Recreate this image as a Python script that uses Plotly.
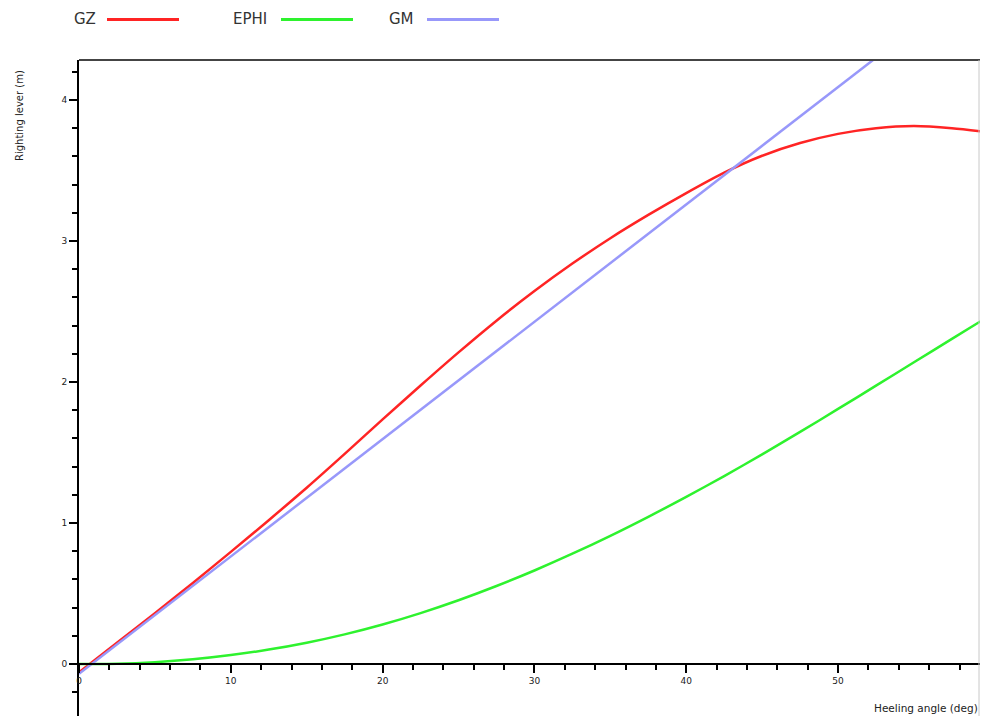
import plotly.graph_objects as go

# ---- data ----
heel_deg = [0, 2.5, 5, 7.5, 10, 12.5, 15, 17.5, 20, 22.5, 25, 27.5, 30,
            32.5, 35, 37.5, 40, 42.5, 45, 47.5, 50, 52.5, 55, 57.5, 60]
gz = [-0.06, 0.15, 0.36, 0.575, 0.795, 1.02, 1.25, 1.49, 1.735, 1.975, 2.21, 2.435, 2.645,
      2.84, 3.02, 3.185, 3.34, 3.485, 3.605, 3.695, 3.76, 3.80, 3.815, 3.80, 3.77]
ephi = [0.0, 0.002, 0.013, 0.033, 0.063, 0.102, 0.151, 0.210, 0.280, 0.361, 0.452, 0.553, 0.663,
        0.782, 0.909, 1.044, 1.185, 1.333, 1.487, 1.646, 1.809, 1.974, 2.140, 2.306, 2.471]
gm_x = [0, 52.5]
gm_y = [-0.07, 4.30]

series_names = ["GZ", "EPHI", "GM"]
series_colors = ["#ff2424", "#2ef22e", "#9898fa"]

x_range = [0, 59.35]
y_range = [-0.369, 4.284]

fig = go.Figure()
fig.add_trace(go.Scatter(x=heel_deg, y=gz, mode="lines", name=series_names[0],
                         line=dict(color=series_colors[0], width=2.5, shape="spline", smoothing=0.8),
                         showlegend=False))
fig.add_trace(go.Scatter(x=heel_deg, y=ephi, mode="lines", name=series_names[1],
                         line=dict(color=series_colors[1], width=2.5, shape="spline", smoothing=0.8),
                         showlegend=False))
fig.add_trace(go.Scatter(x=gm_x, y=gm_y, mode="lines", name=series_names[2],
                         line=dict(color=series_colors[2], width=2.5),
                         showlegend=False))

tick_font = dict(family="DejaVu Sans", size=9, color="#222")
x_pos = (0 - y_range[0]) / (y_range[1] - y_range[0])

# page body has an 8px margin, so the figure is offset by 8px
OFF = 8
W, H = 988 - 2 * OFF, 724 - 2 * OFF
L, T = 79 - OFF, 60 - OFF

fig.update_layout(
    width=W, height=H,
    margin=dict(l=L, r=0, t=T, b=0),
    paper_bgcolor="white", plot_bgcolor="white",
    xaxis=dict(range=x_range, anchor="free", position=x_pos,
               showgrid=False, zeroline=False,
               showline=True, linecolor="black", linewidth=2,
               ticks="outside", ticklen=8, tickwidth=2, tickcolor="black",
               dtick=10, tick0=0, tickfont=tick_font,
               minor=dict(dtick=2, ticks="outside", ticklen=5, tickwidth=2,
                          tickcolor="black", showgrid=False)),
    yaxis=dict(range=y_range, showgrid=False, zeroline=False,
               showline=True, linecolor="black", linewidth=2,
               ticks="outside", ticklen=8, tickwidth=2, tickcolor="black",
               dtick=1, tick0=0, tickfont=tick_font,
               minor=dict(dtick=0.2, ticks="outside", ticklen=5, tickwidth=2,
                          tickcolor="black", showgrid=False)),
)

pw, ph = W - L, H - T

# plot frame: dark top edge, light right edge
fig.add_shape(type="line", xref="paper", yref="paper", x0=0, x1=1, y0=1, y1=1,
              line=dict(color="#444", width=2))
fig.add_shape(type="line", xref="paper", yref="paper", x0=1 - 1.0 / pw, x1=1 - 1.0 / pw, y0=0, y1=1,
              line=dict(color="#c8c8c8", width=1))

# axis titles (positions given in page pixels of the reference)
def px(xp):
    return (xp - OFF - L) / pw

def py(yp):
    return (H - (yp - OFF)) / ph

fig.add_annotation(text="Righting lever (m)", xref="paper", yref="paper",
                   x=px(19), y=py(115), textangle=-90, showarrow=False,
                   xanchor="center", yanchor="middle",
                   font=dict(family="DejaVu Sans", size=10, color="#222"))
fig.add_annotation(text="Heeling angle (deg)", xref="paper", yref="paper",
                   x=1.0, y=py(708), showarrow=False, xanchor="right", yanchor="middle",
                   font=dict(family="DejaVu Sans", size=10.5, color="#222"))

# legend drawn as text followed by a line sample, like the reference
legend_text_x = [72, 231, 387]
legend_line_x = [(107, 179), (281, 353), (427, 499)]
legend_y_px = 19.5
for name, col, tx, (lx0, lx1) in zip(series_names, series_colors, legend_text_x, legend_line_x):
    yp = py(legend_y_px)
    fig.add_annotation(text=name, xref="paper", yref="paper",
                       x=px(tx), y=yp, showarrow=False,
                       xanchor="left", yanchor="middle",
                       font=dict(family="DejaVu Sans", size=15, color="#333"))
    fig.add_shape(type="line", xref="paper", yref="paper",
                  x0=px(lx0), x1=px(lx1), y0=yp, y1=yp,
                  line=dict(color=col, width=3))

fig.write_html("out.html")
